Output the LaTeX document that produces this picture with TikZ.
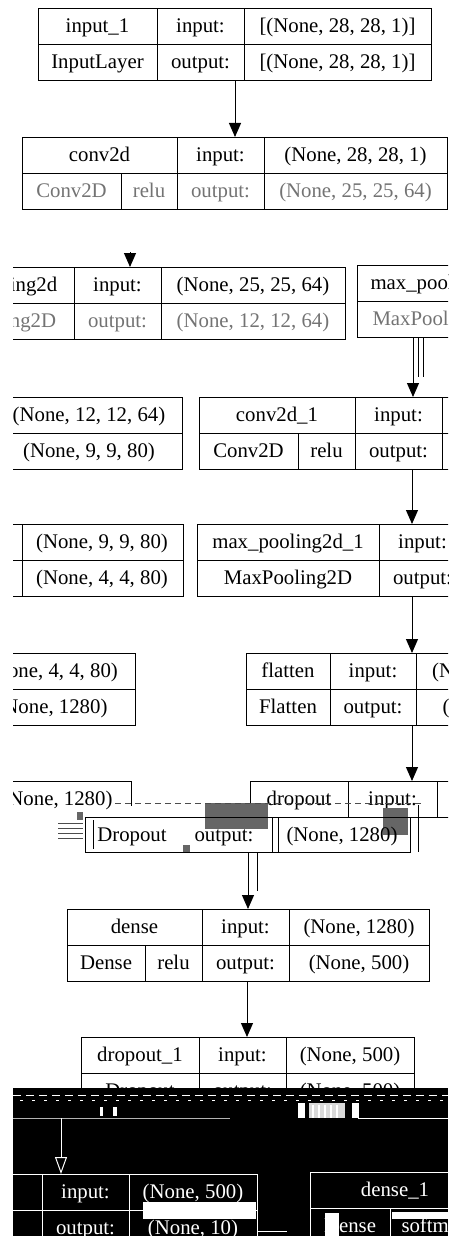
\documentclass[tikz,border=0pt]{standalone}
\usepackage{fontspec}
\setmainfont{Liberation Serif}
\usetikzlibrary{arrows.meta}

\newcommand{\layerfont}{\fontsize{20.8}{25}\selectfont}
\tikzset{
  cell/.style={inner sep=0pt, text height=14pt, text depth=2pt, font=\layerfont},
  faded/.style={cell, text=black!55},
  layer/.style={draw, inner sep=0pt, outer sep=0pt, anchor=north west, minimum height=72pt},
  flow/.style={-{Triangle[width=12pt,length=14pt]}},
  noise/.style={fill=black!60},
}

% one keras layer record: name, left, top, right, name column end, io column end, activation split
\newcommand{\layerbox}[7]{
  \def\boxname{#1}
  \def\leftx{#2}
  \def\topy{#3}
  \def\rightx{#4}
  \def\cola{#5}
  \def\colb{#6}
  \def\actx{#7}
  \node[layer, minimum width={(\rightx-(\leftx))*1pt}] (\boxname) at (\leftx,\topy) {};
  \draw (\boxname.west) -- (\boxname.east);
  \draw (\cola,\topy) -- (\cola,\topy+72);
  \draw (\colb,\topy) -- (\colb,\topy+72);
  \ifx\actx\empty\else
    \draw (\actx,\topy+36) -- (\actx,\topy+72);
  \fi
}

\begin{document}
\begin{tikzpicture}[x=1pt, y=-1pt, line width=1pt]
\useasboundingbox (0,0) rectangle (448,1236);
\clip (13,0) rectangle (448,1236);

% input_1
\layerbox{in1}{38}{9}{431}{157}{244}{}
\node[cell] (in1-a) at (97.5,27) {input\_1};
\node[cell] (in1-b) at (97.5,63) {InputLayer};
\node[cell] (in1-c) at (200.5,27) {input:};
\node[cell] (in1-d) at (200.5,63) {output:};
\node[cell] (in1-e) at (337.5,27) {[(None, 28, 28, 1)]};
\node[cell] (in1-f) at (337.5,63) {[(None, 28, 28, 1)]};

% conv2d
\layerbox{cv1}{22}{137}{447}{177}{264}{121}
\node[cell] (cv1-a) at (99.5,155) {conv2d};
\node[faded] (cv1-b) at (71.5,191) {Conv2D};
\node[faded] (cv1-r) at (149,191) {relu};
\node[cell] (cv1-c) at (220.5,155) {input:};
\node[faded] (cv1-d) at (220.5,191) {output:};
\node[cell] (cv1-e) at (355.5,155) {(None, 28, 28, 1)};
\node[faded] (cv1-f) at (355.5,191) {(None, 25, 25, 64)};

% max_pooling2d, torn in two
\layerbox{mp1}{-90}{267}{345}{74}{161}{}
\node[cell] (mp1-a) at (-8,285) {max\_pooling2d};
\node[faded] (mp1-b) at (-8,321) {MaxPooling2D};
\node[cell] (mp1-c) at (117.5,285) {input:};
\node[faded] (mp1-d) at (117.5,321) {output:};
\node[cell] (mp1-e) at (253,285) {(None, 25, 25, 64)};
\node[faded] (mp1-f) at (253,321) {(None, 12, 12, 64)};
\node[layer, minimum width=150pt] (mp1b) at (357,265) {};
\draw (mp1b.west) -- (mp1b.east);
\node[cell, anchor=west] (mp1b-a) at (370,283) {max\_pooling2d};
\node[faded, anchor=west] (mp1b-b) at (372,319) {MaxPooling2D};

% conv2d_1
\node[layer, minimum width=222pt] (cv2l) at (-40,397) {};
\draw (cv2l.west) -- (cv2l.east);
\node[cell] (cv2l-a) at (89,415) {(None, 12, 12, 64)};
\node[cell] (cv2l-b) at (89,451) {(None, 9, 9, 80)};
\layerbox{cv2}{199}{397}{480}{355}{442}{298}
\node[cell] (cv2-a) at (277,415) {conv2d\_1};
\node[cell] (cv2-b) at (248.5,451) {Conv2D};
\node[cell] (cv2-r) at (326.5,451) {relu};
\node[cell] (cv2-c) at (398.5,415) {input:};
\node[cell] (cv2-d) at (398.5,451) {output:};

% max_pooling2d_1
\node[layer, minimum width=223pt] (mp2l) at (-40,524) {};
\draw (mp2l.west) -- (mp2l.east);
\draw (22,524) -- (22,596);
\node[cell] (mp2l-a) at (102,542) {(None, 9, 9, 80)};
\node[cell] (mp2l-b) at (102,578) {(None, 4, 4, 80)};
\layerbox{mp2}{197}{524}{480}{379}{466}{}
\node[cell] (mp2-a) at (288,542) {max\_pooling2d\_1};
\node[cell] (mp2-b) at (288,578) {MaxPooling2D};
\node[cell] (mp2-c) at (422.5,542) {input:};
\node[cell] (mp2-d) at (422.5,578) {output:};

% flatten
\node[layer, minimum width=175pt] (fll) at (-40,653) {};
\draw (fll.west) -- (fll.east);
\node[cell] (fll-a) at (52,671) {(None, 4, 4, 80)};
\node[cell] (fll-b) at (52,707) {(None, 1280)};
\layerbox{fl}{246}{653}{580}{330}{416}{}
\node[cell] (fl-a) at (288,671) {flatten};
\node[cell] (fl-b) at (288,707) {Flatten};
\node[cell] (fl-c) at (373,671) {input:};
\node[cell] (fl-d) at (373,707) {output:};
\node[cell] (fl-e) at (498,671) {(None, 4, 4, 80)};
\node[cell] (fl-f) at (498,707) {(None, 1280)};

% dropout, lower row slipped to the left
\draw (-40,781) -- (131,781) -- (131,806);
\node[cell] (drl-a) at (57,799) {(None, 1280)};
\node[layer, minimum height=36pt, minimum width=310pt] (dr) at (250,781) {};
\draw (348,781) -- (348,817);
\draw (437,781) -- (437,817);
\node[cell] (dr-a) at (299,799) {dropout};
\node[cell] (dr-c) at (392.5,799) {input:};
\fill[noise] (205,803) rectangle (268,829);
\fill[noise] (383,808) rectangle (408,835);
\fill[noise] (77,812) rectangle (83,820);
\fill[noise] (183,845) rectangle (190,852);
\foreach \yy in {823,828,833,838}
  \draw[black!70] (58,\yy) -- (83,\yy);
\draw[black!70, dash pattern=on 6pt off 4pt] (115,803) -- (423,803);
\node[layer, minimum height=35pt, minimum width=325pt] (drlow) at (85,817) {};
\draw (272,817) -- (272,852);
\draw (93,820) -- (93,849);
\draw (278,817) -- (278,852);
\draw (418,805) -- (418,852);
\node[cell] (drlow-b) at (132,835) {Dropout};
\node[cell] (drlow-d) at (224,835) {output:};
\node[cell] (drlow-f) at (342,835) {(None, 1280)};

% dense
\layerbox{de}{67}{909}{429}{202}{289}{145}
\node[cell] (de-a) at (134.5,927) {dense};
\node[cell] (de-b) at (106,963) {Dense};
\node[cell] (de-r) at (173.5,963) {relu};
\node[cell] (de-c) at (245.5,927) {input:};
\node[cell] (de-d) at (245.5,963) {output:};
\node[cell] (de-e) at (359,927) {(None, 1280)};
\node[cell] (de-f) at (359,963) {(None, 500)};

% dropout_1
\layerbox{do1}{81}{1037}{414}{199}{286}{}
\node[cell] (do1-a) at (140,1055) {dropout\_1};
\node[cell] (do1-b) at (140,1091) {Dropout};
\node[cell] (do1-c) at (242.5,1055) {input:};
\node[cell] (do1-d) at (242.5,1091) {output:};
\node[cell] (do1-e) at (350,1055) {(None, 500)};
\node[cell] (do1-f) at (350,1091) {(None, 500)};

% arrows
\draw[flow] (in1.south -| 235,0) -- (cv1.north -| 235,0);
\coordinate (cut1) at (130,252);
\draw[flow] (cut1) -- (mp1.north -| cut1);
\draw[flow] (mp1b.south -| 413,0) -- (cv2.north -| 413,0);
\draw (418,338) -- (418,377);
\draw (423,338) -- (423,377);
\draw[flow] (cv2.south -| 412,0) -- (mp2.north -| 412,0);
\draw[flow] (mp2.south -| 412,0) -- (fl.north -| 412,0);
\draw[flow] (fl.south -| 412,0) -- (dr.north -| 412,0);
\draw[flow] (drlow.south -| 248,0) -- (de.north -| 248,0);
\draw (257,852) -- (257,891);
\draw[flow] (de.south -| 247,0) -- (do1.north -| 247,0);

% inverted strip at the foot
\fill[black] (13,1088) rectangle (448,1236);
\begin{scope}[white]
  \draw[dash pattern=on 8pt off 5pt] (13,1095) -- (448,1095);
  \draw[dash pattern=on 3pt off 9pt] (20,1100) -- (448,1100);
  \fill (100,1107) rectangle (103,1116);
  \fill (113,1107) rectangle (117,1116);
  \fill (298,1103) rectangle (305,1118);
  \fill[black!15] (309,1103) rectangle (345,1118);
  \foreach \xx in {312,318,324,330,336}
    \fill (\xx,1105) rectangle (\xx+2,1118);
  \fill (352,1103) rectangle (358,1118);
  \draw (358,1103) -- (358,1118) -- (448,1118);
  \draw[white!70!black] (13,1118) -- (230,1118);
  \fill (143,1202) rectangle (256,1219);
  \fill (325,1213) rectangle (339,1236);
  \fill (392,1212) rectangle (448,1219);
  \draw (257,1231) -- (287,1231);
  \layerbox{lb}{-40}{1174}{257}{42}{129}{}
  \node[cell, text=white] (lb-c) at (85.5,1192) {input:};
  \node[cell, text=white] (lb-e) at (193,1192) {(None, 500)};
  \node[cell, text=white] (lb-d) at (85.5,1228) {output:};
  \node[cell, text=white] (lb-f) at (193,1228) {(None, 10)};
  \layerbox{rb}{310}{1172}{560}{480}{540}{390}
  \node[cell, text=white] (rb-a) at (395,1190) {dense\_1};
  \node[cell, text=white] (rb-b) at (350,1226) {Dense};
  \node[cell, text=white] (rb-r) at (435,1226) {softmax};
  \coordinate (bend) at (61,1118);
  \draw[-{Triangle[open, width=12pt, length=17pt]}] (bend) -- (lb.north -| bend);
\end{scope}
\end{tikzpicture}
\end{document}
